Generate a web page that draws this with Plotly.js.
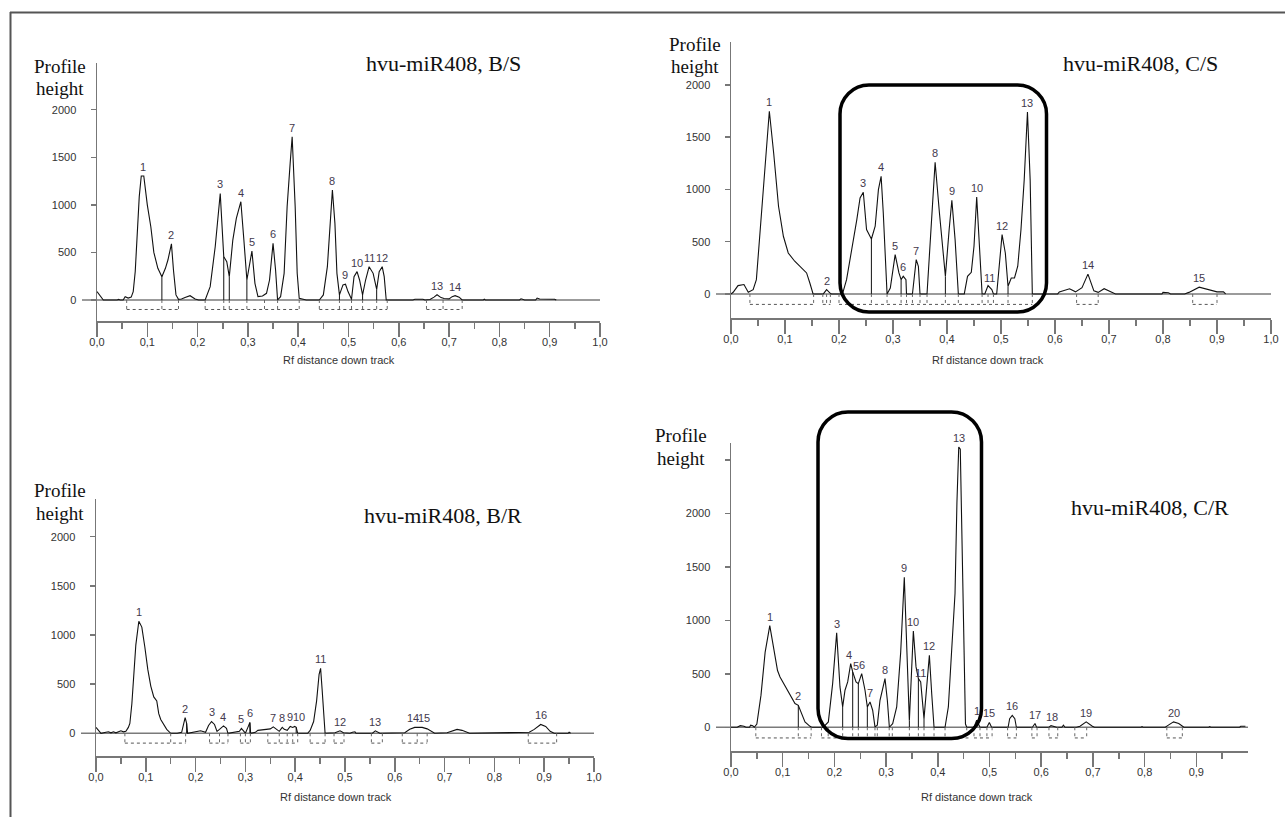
<!DOCTYPE html>
<html><head><meta charset="utf-8">
<script src="https://cdn.plot.ly/plotly-3.0.1.min.js"></script>
<style>html,body{margin:0;padding:0;background:#fff;}#chart{width:1285px;height:817px;}</style>
</head><body><div id="chart"></div>
<script>
// ---------- shared tick labels ----------
const xTickVals = [0,0.1,0.2,0.3,0.4,0.5,0.6,0.7,0.8,0.9,1.0];
const xTickText = ['0,0','0,1','0,2','0,3','0,4','0,5','0,6','0,7','0,8','0,9','1,0'];
const xMinorVals = [0.05,0.15,0.25,0.35,0.45,0.55,0.65,0.75,0.85,0.95];
const yTickVals = [0,500,1000,1500,2000];
const yTickText = ['0','500','1000','1500','2000'];
const yTickValsCR = [0,500,1000,1500,2000,2500];
const yTickTextCR = ['0','500','1000','1500','2000',''];

// ---------- panel B/S ----------
const bsX = [0,0.006,0.0126,0.04,0.043,0.046,0.052,0.056,0.062,0.068,0.072,0.076,0.079,0.084,0.088,0.093,0.1,0.107,0.113,0.121,0.129,0.136,0.141,0.148,0.152,0.157,0.162,0.168,0.175,0.185,0.195,0.202,0.215,0.225,0.235,0.245,0.252,0.258,0.263,0.27,0.277,0.286,0.292,0.298,0.308,0.314,0.32,0.329,0.337,0.343,0.35,0.355,0.359,0.365,0.372,0.378,0.384,0.388,0.394,0.398,0.402,0.41,0.416,0.442,0.45,0.458,0.463,0.468,0.473,0.477,0.482,0.489,0.494,0.499,0.506,0.511,0.517,0.522,0.528,0.534,0.541,0.549,0.556,0.561,0.567,0.571,0.575,0.628,0.632,0.648,0.652,0.662,0.67,0.676,0.684,0.69,0.7,0.706,0.712,0.72,0.726,0.768,0.77,0.772,0.84,0.843,0.846,0.85,0.872,0.875,0.88,0.89,0.9,0.91,0.913];
const bsY = [88,40,0,0,6,0,0,35,20,30,88,300,630,1086,1303,1303,1000,770,500,333,245,333,420,590,315,53,7,10,25,45,10,0,0,140,560,1120,455,403,245,630,858,1033,630,210,515,175,35,42,70,210,595,315,0,35,280,980,1436,1716,980,280,17,5,0,0,53,350,805,1156,805,280,53,158,165,88,7,245,298,210,53,210,350,280,112,298,350,245,0,0,8,8,0,5,30,55,25,15,12,35,45,30,0,0,8,0,0,12,8,0,0,20,10,10,8,8,0];
const bsDrops = [0.129,0.252,0.263,0.298,0.359,0.482,0.506,0.528,0.556];
const bsSegStart = [0.059,0.215,0.442,0.655];
const bsSegEnd = [0.162,0.402,0.577,0.726];
const bsDotTicks = [0.059,0.129,0.162,0.215,0.252,0.263,0.298,0.333,0.359,0.402,0.442,0.482,0.506,0.528,0.556,0.577,0.655,0.688,0.726];
const bsLabelX = [0.0905,0.148,0.245,0.286,0.308,0.35,0.388,0.468,0.494,0.517,0.541,0.567,0.676,0.712];
const bsLabelText = ['1','2','3','4','5','6','7','8','9','10','11','12','13','14'];

// ---------- panel C/S ----------
const csX = [0,0.004,0.013,0.024,0.032,0.041,0.047,0.053,0.062,0.071,0.079,0.088,0.097,0.106,0.118,0.131,0.14,0.146,0.152,0.171,0.174,0.177,0.183,0.186,0.203,0.207,0.214,0.224,0.233,0.239,0.245,0.251,0.26,0.267,0.273,0.278,0.282,0.289,0.295,0.304,0.311,0.315,0.319,0.324,0.325,0.336,0.343,0.347,0.35,0.363,0.371,0.378,0.386,0.397,0.404,0.409,0.415,0.421,0.432,0.438,0.445,0.45,0.455,0.46,0.465,0.47,0.476,0.483,0.486,0.492,0.497,0.502,0.508,0.513,0.519,0.525,0.531,0.537,0.543,0.549,0.554,0.558,0.605,0.608,0.627,0.638,0.65,0.661,0.672,0.68,0.691,0.707,0.712,0.798,0.8,0.81,0.814,0.84,0.848,0.867,0.89,0.9,0.912,0.916];
const csY = [0,16,80,90,16,41,137,520,1158,1748,1349,839,552,392,313,249,201,105,0,0,16,41,10,0,0,10,137,424,711,919,973,616,526,648,998,1126,775,0,57,376,201,137,169,137,0,0,328,265,0,0,616,1260,775,169,616,896,520,0,0,169,207,456,928,520,0,0,80,41,0,0,265,568,392,73,153,153,265,616,1094,1741,1094,0,0,20,50,20,60,190,30,15,50,10,0,0,15,12,0,0,15,65,30,20,20,0];
const csDrops = [0.26,0.315,0.325,0.35,0.397,0.465,0.486,0.513,0.558];
const csSegStart = [0.035,0.17,0.2,0.64,0.855];
const csSegEnd = [0.153,0.184,0.558,0.68,0.9];
const csDotTicks = [0.035,0.153,0.17,0.177,0.184,0.2,0.26,0.289,0.315,0.325,0.336,0.35,0.363,0.397,0.421,0.465,0.476,0.486,0.513,0.558,0.64,0.68,0.855,0.9];
const csLabelX = [0.071,0.177,0.245,0.278,0.304,0.319,0.343,0.378,0.409,0.455,0.479,0.502,0.549,0.661,0.867];
const csLabelText = ['1','2','3','4','5','6','7','8','9','10','11','12','13','14','15'];

// ---------- panel B/R ----------
const brX = [0,0.01,0.02,0.025,0.03,0.035,0.04,0.05,0.055,0.06,0.065,0.068,0.072,0.076,0.08,0.086,0.092,0.098,0.104,0.11,0.116,0.122,0.126,0.13,0.135,0.142,0.15,0.163,0.172,0.176,0.179,0.182,0.184,0.21,0.215,0.22,0.226,0.232,0.238,0.243,0.248,0.256,0.262,0.265,0.288,0.292,0.297,0.3,0.305,0.309,0.3105,0.32,0.325,0.34,0.35,0.356,0.362,0.368,0.374,0.378,0.384,0.39,0.395,0.399,0.402,0.405,0.425,0.43,0.437,0.443,0.448,0.451,0.454,0.457,0.46,0.48,0.49,0.497,0.51,0.515,0.52,0.522,0.555,0.561,0.567,0.57,0.62,0.63,0.64,0.655,0.665,0.672,0.68,0.705,0.715,0.725,0.735,0.745,0.75,0.87,0.88,0.893,0.903,0.912,0.92,0.948,0.95,0.953];
const brY = [60,0,10,15,5,15,5,25,15,20,60,100,300,600,900,1140,1080,880,650,480,370,330,200,140,100,40,0,0,10,80,160,100,0,25,15,10,80,120,90,20,40,75,50,0,20,50,20,0,60,110,0,10,30,40,45,65,40,20,60,40,30,70,60,70,60,0,0,30,120,330,600,660,450,150,0,5,25,5,0,10,15,0,0,25,5,0,5,40,60,60,45,20,0,5,20,40,30,5,0,10,40,90,70,20,0,0,10,0];
const brDrops = [0.182,0.309,0.402];
const brSegStart = [0.058,0.228,0.29,0.345,0.43,0.478,0.553,0.615,0.868];
const brSegEnd = [0.18,0.265,0.31,0.405,0.46,0.498,0.575,0.665,0.925];
const brDotTicks = [0.058,0.15,0.18,0.228,0.248,0.265,0.29,0.3,0.31,0.345,0.368,0.384,0.395,0.405,0.43,0.46,0.478,0.498,0.553,0.575,0.615,0.645,0.665,0.868,0.925];
const brLabelX = [0.086,0.179,0.232,0.256,0.292,0.309,0.356,0.374,0.39,0.401,0.451,0.49,0.561,0.642,0.652,0.893];
const brLabelText = ['1','2','3','4','5','6','7','8','9','10','11','12','13','14','15','16'];

// ---------- panel C/R ----------
const crX = [0,0.012,0.018,0.025,0.029,0.036,0.038,0.042,0.045,0.05,0.058,0.066,0.075,0.082,0.09,0.0948,0.1077,0.1238,0.1302,0.1367,0.1431,0.1528,0.156,0.1786,0.1883,0.1966,0.2044,0.2108,0.216,0.2205,0.2257,0.2315,0.2354,0.2418,0.2463,0.2528,0.2592,0.2637,0.2689,0.274,0.2785,0.283,0.2882,0.2979,0.3024,0.3063,0.3127,0.3205,0.3282,0.3352,0.3408,0.345,0.3527,0.3579,0.3624,0.3669,0.3733,0.3785,0.3837,0.3882,0.3927,0.414,0.4204,0.4268,0.4333,0.437,0.4405,0.4435,0.4475,0.4505,0.4535,0.456,0.47,0.4752,0.4816,0.495,0.4997,0.504,0.536,0.539,0.544,0.549,0.552,0.583,0.588,0.591,0.615,0.619,0.625,0.63,0.64,0.643,0.646,0.668,0.675,0.687,0.699,0.703,0.793,0.795,0.797,0.84,0.846,0.856,0.866,0.872,0.876,0.924,0.926,0.928,0.984,0.986,0.99,0.995];
const crY = [0,0,15,10,0,0,20,15,0,30,300,700,950,750,530,470,361,221,205,128,50,9,0,0,50,408,882,377,190,346,424,595,517,424,408,502,346,190,237,159,3,20,252,455,252,0,34,190,700,1402,723,60,900,564,455,424,81,377,673,315,0,0,190,720,1250,2100,2620,2600,1400,500,30,0,0,65,0,0,45,0,0,80,110,80,0,0,35,0,0,15,10,0,0,20,0,0,10,50,10,0,0,5,0,0,20,50,35,15,0,0,5,0,0,10,8,10];
const crDrops = [0.1302,0.216,0.2354,0.2463,0.2637,0.345,0.3624,0.3733];
const crSegStart = [0.048,0.175,0.47,0.535,0.582,0.615,0.665,0.843];
const crSegEnd = [0.155,0.46,0.505,0.552,0.592,0.632,0.688,0.873];
const crDotTicks = [0.048,0.1302,0.155,0.175,0.188,0.216,0.2354,0.2463,0.2637,0.2785,0.283,0.306,0.312,0.345,0.3624,0.3733,0.3927,0.414,0.456,0.47,0.4816,0.495,0.505,0.535,0.552,0.582,0.592,0.615,0.632,0.665,0.688,0.843,0.873];
const crLabelX = [0.075,0.1302,0.2044,0.2315,0.2354,0.2528,0.2689,0.2979,0.3352,0.3527,0.3669,0.3837,0.4405,0.4752,0.4997,0.544,0.588,0.621,0.687,0.856];
const crLabelText = ['1','2','3','4','5','6','7','8','9','10','11','12','13','1','15','16','17','18','19','20'];

// ---------- layout helpers ----------
const W = 1285, H = 817;
const SANS = 'Liberation Sans, Arial, sans-serif';
const SERIF = 'Liberation Serif, Times New Roman, serif';

function interp(xs, ys, x) {
  for (let i = 0; i < xs.length - 1; i++) {
    if (x >= xs[i] && x <= xs[i+1]) {
      const t = (xs[i+1] === xs[i]) ? 0 : (x - xs[i]) / (xs[i+1] - xs[i]);
      return ys[i] + t * (ys[i+1] - ys[i]);
    }
  }
  return 0;
}
function peakNear(xs, ys, x) {
  let m = interp(xs, ys, x);
  for (let i = 0; i < xs.length; i++) if (Math.abs(xs[i] - x) < 0.0025) m = Math.max(m, ys[i]);
  return m;
}

// placement tweaks for labels that crowd each other (panel index - label text)
const labelPlacement = {
  '2-9':  {xanchor: 'right', xshift: 5},
  '2-10': {xanchor: 'left',  xshift: -5},
  '2-14': {xanchor: 'right', xshift: 5},
  '2-15': {xanchor: 'left',  xshift: -5},
  '3-4':  {xshift: -2},
  '3-5':  {xshift: 3, yshift: -3}
};

const panels = [
  {px:bsX, py:bsY, drops:bsDrops, s0:bsSegStart, s1:bsSegEnd, dt:bsDotTicks, lx:bsLabelX, lt:bsLabelText,
   title:'hvu-miR408, B/S', tpos:[443,64], prof:[60,66,89], rf:[339,360],
   xd:[97,600], yd:[63,321], yr:[-221,2491], ytv:yTickVals, ytt:yTickText, xtv:xTickVals, xtt:xTickText},
  {px:csX, py:csY, drops:csDrops, s0:csSegStart, s1:csSegEnd, dt:csDotTicks, lx:csLabelX, lt:csLabelText,
   title:'hvu-miR408, C/S', tpos:[1140,63], prof:[695,44,67], rf:[988,360],
   xd:[731,1271], yd:[41.7,318.3], yr:[-233,2414], ytv:yTickVals, ytt:yTickText, xtv:xTickVals, xtt:xTickText},
  {px:brX, py:brY, drops:brDrops, s0:brSegStart, s1:brSegEnd, dt:brDotTicks, lx:brLabelX, lt:brLabelText,
   title:'hvu-miR408, B/R', tpos:[443,515], prof:[60,490,513], rf:[336,797],
   xd:[96,594], yd:[499.3,756], yr:[-231,2380], ytv:yTickVals, ytt:yTickText, xtv:xTickVals, xtt:xTickText},
  {px:crX, py:crY, drops:crDrops, s0:crSegStart, s1:crSegEnd, dt:crDotTicks, lx:crLabelX, lt:crLabelText,
   title:'hvu-miR408, C/R', tpos:[1150,507], prof:[681,435,458], rf:[977,797],
   xd:[731,1248], yd:[443,751], yr:[-222,2657], ytv:yTickValsCR, ytt:yTickTextCR, xtv:xTickVals.slice(0,10), xtt:xTickText.slice(0,10)}
];

const traces = [];
const annotations = [];
const shapes = [];
const layout = {
  width: W, height: H, margin: {l:0, r:0, t:0, b:0},
  paper_bgcolor: '#fff', plot_bgcolor: 'rgba(0,0,0,0)', showlegend: false,
  font: {family: SANS, color: '#333'}
};

panels.forEach((p, i) => {
  const s = i === 0 ? '' : String(i + 1);
  const xa = 'x' + s, ya = 'y' + s;
  // profile
  traces.push({x: p.px, y: p.py, mode: 'lines', line: {color: '#111', width: 1.1}, xaxis: xa, yaxis: ya, hoverinfo: 'skip'});
  // drop lines
  const dx = [], dy = [];
  p.drops.forEach(d => { dx.push(d, d, null); dy.push(0, interp(p.px, p.py, d), null); });
  traces.push({x: dx, y: dy, mode: 'lines', line: {color: '#111', width: 1}, xaxis: xa, yaxis: ya, hoverinfo: 'skip'});
  // dotted baselines under peaks
  const hx = [], hy = [];
  p.s0.forEach((a, k) => { hx.push(a, p.s1[k], null); hy.push(-100, -100, null); });
  traces.push({x: hx, y: hy, mode: 'lines', line: {color: '#555', width: 1, dash: 'dot'}, xaxis: xa, yaxis: ya, hoverinfo: 'skip'});
  const vx = [], vy = [];
  p.dt.forEach(t => { vx.push(t, t, null); vy.push(0, -100, null); });
  traces.push({x: vx, y: vy, mode: 'lines', line: {color: '#666', width: 1, dash: 'dot'}, xaxis: xa, yaxis: ya, hoverinfo: 'skip'});

  // axes
  layout['xaxis' + s] = {
    domain: [p.xd[0] / W, p.xd[1] / W], range: [0, 1], anchor: ya,
    showline: true, linecolor: '#777', linewidth: 1.5, showgrid: false, zeroline: false,
    ticks: 'outside', ticklen: 14, tickwidth: 1.5, tickcolor: '#777',
    tickmode: 'array', tickvals: p.xtv, ticktext: p.xtt, ticklabelstandoff: -4,
    tickfont: {family: SANS, size: 11, color: '#333'},
    minor: {tickmode: 'array', tickvals: xMinorVals, ticks: 'outside', ticklen: 6, tickwidth: 1.5, tickcolor: '#777', showgrid: false}
  };
  layout['yaxis' + s] = {
    domain: [1 - p.yd[1] / H, 1 - p.yd[0] / H], range: p.yr, anchor: xa,
    showline: true, linecolor: '#777', linewidth: 1.5, showgrid: false, zeroline: false,
    ticks: 'outside', ticklen: 5, tickwidth: 1.5, tickcolor: '#777',
    tickmode: 'array', tickvals: p.ytv, ticktext: p.ytt, ticklabelstandoff: 12,
    tickfont: {family: SANS, size: 11, color: '#333'}
  };
  // baseline (zero line) extending left of the axis
  shapes.push({type: 'line', xref: 'paper', yref: ya, x0: (p.xd[0] - 15) / W, x1: p.xd[1] / W, y0: 0, y1: 0,
               line: {color: '#7a7a7a', width: 1.5}, layer: 'below'});

  // peak labels
  p.lx.forEach((x, k) => {
    const tw = labelPlacement[i + '-' + p.lt[k]] || {};
    annotations.push({x: x, y: peakNear(p.px, p.py, x), xref: xa, yref: ya, text: p.lt[k], showarrow: false,
      xanchor: tw.xanchor || 'center', yanchor: 'bottom', yshift: 1 + (tw.yshift || 0), xshift: tw.xshift || 0,
      font: {family: SANS, size: 11, color: '#43394d'}});
  });
  // texts
  annotations.push({x: p.tpos[0] / W, y: 1 - p.tpos[1] / H, xref: 'paper', yref: 'paper', text: p.title, showarrow: false,
    xanchor: 'center', yanchor: 'middle', font: {family: SERIF, size: 22, color: '#111'}});
  annotations.push({x: p.prof[0] / W, y: 1 - p.prof[1] / H, xref: 'paper', yref: 'paper', text: 'Profile', showarrow: false,
    xanchor: 'center', yanchor: 'middle', font: {family: SERIF, size: 19, color: '#111'}});
  annotations.push({x: p.prof[0] / W, y: 1 - p.prof[2] / H, xref: 'paper', yref: 'paper', text: 'height', showarrow: false,
    xanchor: 'center', yanchor: 'middle', font: {family: SERIF, size: 19, color: '#111'}});
  annotations.push({x: p.rf[0] / W, y: 1 - p.rf[1] / H, xref: 'paper', yref: 'paper', text: 'Rf distance down track', showarrow: false,
    xanchor: 'center', yanchor: 'middle', font: {family: SANS, size: 11, color: '#333'}});
});

// rounded highlight boxes
function P(x, y) { return (x / W).toFixed(5) + ',' + (1 - y / H).toFixed(5); }
function roundRect(L, T, R, B, r) {
  const k = 0.5523 * r;
  return 'M' + P(L + r, T) + ' L' + P(R - r, T) +
    ' C' + P(R - r + k, T) + ' ' + P(R, T + r - k) + ' ' + P(R, T + r) +
    ' L' + P(R, B - r) +
    ' C' + P(R, B - r + k) + ' ' + P(R - r + k, B) + ' ' + P(R - r, B) +
    ' L' + P(L + r, B) +
    ' C' + P(L + r - k, B) + ' ' + P(L, B - r + k) + ' ' + P(L, B - r) +
    ' L' + P(L, T + r) +
    ' C' + P(L, T + r - k) + ' ' + P(L + r - k, T) + ' ' + P(L + r, T) + ' Z';
}
shapes.push({type: 'path', xref: 'paper', yref: 'paper', path: roundRect(840, 85, 1046.5, 312, 29), line: {color: '#000', width: 3.5}});
shapes.push({type: 'path', xref: 'paper', yref: 'paper', path: roundRect(818, 412, 981.5, 738.5, 30), line: {color: '#000', width: 3.5}});
// page frame
shapes.push({type: 'line', xref: 'paper', yref: 'paper', x0: 10.5 / W, x1: 10.5 / W, y0: 1 - 12 / H, y1: 0, line: {color: '#555', width: 2}});
shapes.push({type: 'line', xref: 'paper', yref: 'paper', x0: 10 / W, x1: 1, y0: 1 - 12.5 / H, y1: 1 - 12.5 / H, line: {color: '#555', width: 2}});

layout.shapes = shapes;
layout.annotations = annotations;
Plotly.newPlot('chart', traces, layout, {staticPlot: true, displayModeBar: false});
</script></body></html>
